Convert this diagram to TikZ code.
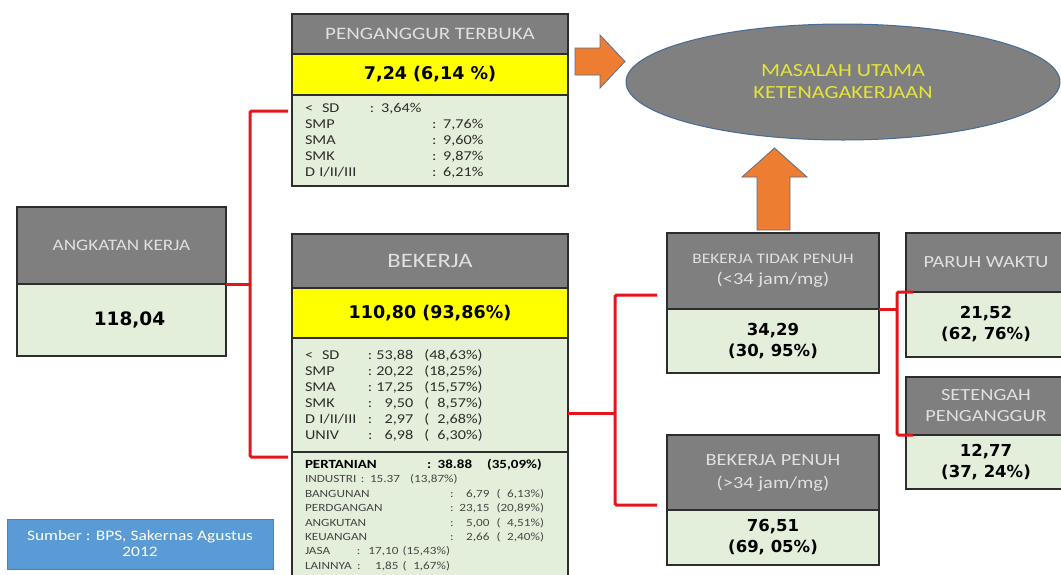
\documentclass[tikz,border=0pt]{standalone}
\usepackage{fontspec}
\setmainfont{Carlito}[FakeStretch=1.2]
\newfontfamily\numfont{DejaVu Sans}
\usetikzlibrary{positioning,shapes.geometric}
\definecolor{hdrGray}{RGB}{127,127,127}
\definecolor{hdrText}{RGB}{224,224,224}
\definecolor{valGreen}{RGB}{227,239,218}
\definecolor{valYellow}{RGB}{255,255,0}
\definecolor{boxLine}{RGB}{45,45,45}
\definecolor{listText}{RGB}{45,45,45}
\definecolor{sectorText}{RGB}{70,70,70}
\definecolor{conRed}{RGB}{228,22,28}
\definecolor{arrowOrange}{RGB}{237,125,49}
\definecolor{arrowEdge}{RGB}{95,110,135}
\definecolor{ovalGray}{RGB}{128,128,128}
\definecolor{ovalEdge}{RGB}{68,108,150}
\definecolor{ovalText}{RGB}{228,228,60}
\definecolor{srcBlue}{RGB}{91,155,213}
\definecolor{srcEdge}{RGB}{75,130,190}
\newcommand{\bkjrow}[3]{\makebox[63pt][l]{#1}:\makebox[41pt][r]{#2}\hspace{11pt}(#3\%)}

\begin{document}
\begin{tikzpicture}[x=1pt,y=-1pt,
  box/.style={draw=boxLine,line width=1.2pt,inner sep=0pt,outer sep=0pt,align=center},
  hdrbox/.style={box,fill=hdrGray,text=hdrText},
  valbox/.style={box,fill=valGreen,font=\numfont\bfseries\fontsize{16.5}{21}\selectfont},
  ylwbox/.style={box,fill=valYellow,font=\numfont\bfseries\fontsize{17.5}{20}\selectfont},
  listbox/.style={box,fill=valGreen,align=left,text width=250pt,text=listText},
  redline/.style={draw=conRed,line width=3pt,rounded corners=1.5pt},
  bigarrow/.style={fill=arrowOrange,draw=arrowEdge,line width=0.8pt}]
%% frame
\useasboundingbox (0,0) rectangle (1061,574);
\fill[white] (0,0) rectangle (1061,574);
%the ellipse
\node[ellipse,fill=ovalGray,draw=ovalEdge,line width=1pt,minimum width=434,minimum height=116,inner sep=0pt,
  text=ovalText,align=center,font=\fontsize{18.5}{22}\selectfont] (masalah) at (843,82) {MASALAH UTAMA\\KETENAGAKERJAAN};
%penganggur terbuka
\node[hdrbox,minimum width=276,minimum height=40,font=\fontsize{17.5}{20}\selectfont] (pengHead) at (430,34) {PENGANGGUR TERBUKA};
\node[ylwbox,minimum width=276,minimum height=41,below=0pt of pengHead] (pengVal) {7,24 (6,14 \%)};
\node[listbox,minimum width=276,minimum height=91,below=0pt of pengVal,font=\fontsize{13.5}{16}\selectfont] (pengList) {%
  \makebox[65pt][l]{<\ \ SD}: 3,64\%\\
  \makebox[127pt][l]{SMP}: 7,76\%\\
  \makebox[127pt][l]{SMA}: 9,60\%\\
  \makebox[127pt][l]{SMK}: 9,87\%\\
  \makebox[127pt][l]{D I/II/III}: 6,21\%};
%bekerja
\node[hdrbox,minimum width=276,minimum height=54,font=\fontsize{20.5}{24}\selectfont] (bkjHead) at (430,261) {BEKERJA};
\node[ylwbox,minimum width=276,minimum height=50,below=0pt of bkjHead] (bkjVal) {110,80 (93,86\%)};
\node[listbox,minimum width=276,minimum height=114,below=0pt of bkjVal,font=\fontsize{13.5}{16}\selectfont] (bkjList) {%
  \bkjrow{<\ \ SD}{53,88}{48,63}\\
  \bkjrow{SMP}{20,22}{18,25}\\
  \bkjrow{SMA}{17,25}{15,57}\\
  \bkjrow{SMK}{9,50}{\hphantom{0}8,57}\\
  \bkjrow{D I/II/III}{2,97}{\hphantom{0}2,68}\\
  \bkjrow{UNIV}{6,98}{\hphantom{0}6,30}};
\node[listbox,minimum width=276,minimum height=126,below=0pt of bkjList,text=sectorText,font=\fontsize{11}{14.4}\selectfont] (bkjSector) {%
  {\color{black}\bfseries\fontsize{12.5}{14.4}\selectfont \makebox[122pt][l]{PERTANIAN}:\makebox[41pt][r]{38.88}\hspace{15pt}(35,09\%)}\\
  \makebox[56pt][l]{INDUSTRI}: 15.37\hspace{10pt}(13,87\%)\\
  \makebox[145pt][l]{BANGUNAN}:\makebox[36pt][r]{6,79}\hspace{7pt}(\hphantom{0}6,13\%)\\
  \makebox[145pt][l]{PERDGANGAN}:\makebox[36pt][r]{23,15}\hspace{7pt}(20,89\%)\\
  \makebox[145pt][l]{ANGKUTAN}:\makebox[36pt][r]{5,00}\hspace{7pt}(\hphantom{0}4,51\%)\\
  \makebox[145pt][l]{KEUANGAN}:\makebox[36pt][r]{2,66}\hspace{7pt}(\hphantom{0}2,40\%)\\
  \makebox[52pt][l]{JASA}:\makebox[38pt][r]{17,10}\hspace{4pt}(15,43\%)\\
  \makebox[52pt][l]{LAINNYA}:\makebox[38pt][r]{1,85}\hspace{4pt}(\hphantom{0}1,67\%)};
%angkatan kerja
\node[hdrbox,minimum width=209,minimum height=77,font=\fontsize{16}{20}\selectfont] (angkHead) at (121.5,245.5) {ANGKATAN KERJA};
\node[valbox,minimum width=209,minimum height=72,below=0pt of angkHead,font=\numfont\bfseries\fontsize{18.5}{22}\selectfont] (angkVal) {\hspace*{16pt}118,04};
%bekerja tidak penuh / penuh
\node[hdrbox,minimum width=212,minimum height=76,font=\fontsize{17}{21}\selectfont] (btpHead) at (773,271) {{\fontsize{14.5}{21}\selectfont BEKERJA TIDAK PENUH}\\(<34 jam/mg)};
\node[valbox,minimum width=212,minimum height=64,below=0pt of btpHead] (btpVal) {34,29\\(30, 95\%)};
\node[hdrbox,minimum width=212,minimum height=75,font=\fontsize{17}{23}\selectfont] (bpHead) at (773,472.5) {BEKERJA PENUH\\(>34 jam/mg)};
\node[valbox,minimum width=212,minimum height=55,below=0pt of bpHead] (bpVal) {76,51\\(69, 05\%)};
%paruh waktu / setengah penganggur
\node[hdrbox,minimum width=160,minimum height=59,font=\fontsize{17}{21}\selectfont] (paruhHead) at (986,262.5) {PARUH WAKTU};
\node[valbox,minimum width=160,minimum height=65,below=0pt of paruhHead] (paruhVal) {21,52\\(62, 76\%)};
\node[hdrbox,minimum width=160,minimum height=58,font=\fontsize{17}{21}\selectfont] (setHead) at (986,406) {SETENGAH\\PENGANGGUR};
\node[valbox,minimum width=160,minimum height=54,below=0pt of setHead] (setVal) {12,77\\(37, 24\%)};
%sumber
\node[box,draw=srcEdge,line width=0.8pt,fill=srcBlue,text=white,minimum width=266,minimum height=50,
  font=\fontsize{14.5}{16}\selectfont] (sumber) at (140,544) {Sumber : BPS, Sakernas Agustus\\2012};
%orange arrows
\draw[bigarrow] (575,48) -- (600,48) -- (600,35) -- (625,61.5) -- (600,88) -- (600,75) -- (575,75) -- cycle;
\draw[bigarrow] (757,230) -- (757,177) -- (742,177) -- (774.5,148) -- (807,177) -- (790,177) -- (790,230) -- cycle;
%drawings of red lines
\coordinate (lTop) at (250,111);
\coordinate (lJoin) at (250,284);
\coordinate (lBot) at (250,457);
\draw[redline] (angkVal.north east) -- (lJoin);
\draw[redline] ([xshift=-4pt]pengList.west |- lTop) -- (lTop) -- (lBot) -- ([xshift=-4pt]bkjSector.west |- lBot);
\coordinate (mTop) at (615,295);
\coordinate (mJoin) at (615,413);
\coordinate (mBot) at (615,505);
\draw[redline] (bkjList.east |- mJoin) -- (mJoin);
\draw[redline] ([xshift=-10pt]btpHead.west |- mTop) -- (mTop) -- (mBot) -- ([xshift=-10pt]bpHead.west |- mBot);
\coordinate (rJoin) at (897,309);
\draw[redline] (btpVal.north east) -- (rJoin);
\draw[redline] ([xshift=7pt]paruhVal.north west) -| (rJoin) |- ([xshift=7pt]setVal.north west);
\end{tikzpicture}
\end{document}
